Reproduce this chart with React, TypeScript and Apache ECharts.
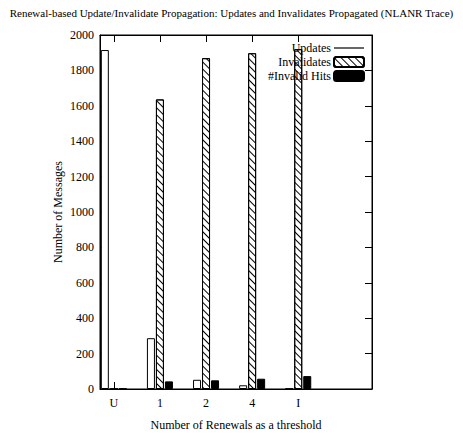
import React, { useEffect, useRef } from "react";
import * as echarts from "echarts";

const categories = ["U", "1", "2", "4", "I"];
const positions = [0, 1, 2, 3, 4];
const updates = [1915, 287, 52, 21, 2];
const invalidates = [0, 1636, 1869, 1897, 1920];
const invalidHits = [3, 43, 49, 58, 73];

const FONT = "Liberation Serif";

export default function App() {
  const ref = useRef<HTMLDivElement>(null);
  useEffect(() => {
    if (!ref.current) return;
    const chart = echarts.init(ref.current, undefined, { renderer: "svg" });
    const pair = (arr: number[]) => positions.map((p, i) => [p, arr[i]]);
    const xBase = (pos: "bottom" | "top", labels: boolean) => ({
      type: "value",
      position: pos,
      min: -0.3,
      max: 5.6,
      axisLine: { show: true, onZero: false, lineStyle: { color: "#000", width: 1 } },
      axisTick: {
        show: true,
        inside: true,
        length: 7,
        customValues: positions,
        lineStyle: { color: "#000" },
      },
      axisLabel: {
        show: labels,
        customValues: positions,
        formatter: (v: number) => categories[Math.round(v)] ?? "",
        color: "#000",
        fontFamily: FONT,
        fontSize: 12,
        margin: 8,
      },
      splitLine: { show: false },
    });
    const yBase = (pos: "left" | "right", labels: boolean) => ({
      type: "value",
      position: pos,
      min: 0,
      max: 2000,
      interval: 200,
      axisLine: { show: true, onZero: false, lineStyle: { color: "#000", width: 1 } },
      axisTick: { show: true, inside: true, length: 7, lineStyle: { color: "#000" } },
      axisLabel: {
        show: labels,
        color: "#000",
        fontFamily: FONT,
        fontSize: 12,
        margin: 6,
        formatter: (v: number) => String(v),
      },
      splitLine: { show: false },
    });
    chart.setOption({
      animation: false,
      backgroundColor: "#fff",
      title: {
        text: "Renewal-based Update/Invalidate Propagation: Updates and Invalidates Propagated (NLANR Trace)",
        left: "center",
        top: 2,
        textStyle: { fontFamily: FONT, fontSize: 11, fontWeight: "normal", color: "#000" },
      },
      grid: {
        left: 100,
        right: 91,
        top: 35,
        bottom: 44,
        show: true,
        borderColor: "#000",
        borderWidth: 1,
        backgroundColor: "transparent",
      },
      legend: {
        orient: "vertical",
        right: 98,
        top: 42,
        align: "right",
        itemWidth: 30,
        itemHeight: 10,
        itemGap: 2,
        padding: 0,
        textStyle: { fontFamily: FONT, fontSize: 12, color: "#000", padding: [0, -2, 0, 0] },
        data: [
          {
            name: "Updates",
            icon: "path://M0,0L30,0L30,1.2L0,1.2Z",
            itemStyle: { color: "#000", borderWidth: 0 },
          },
          { name: "Invalidates" },
          { name: "#Invalid Hits" },
        ],
      },
      xAxis: [
        {
          ...xBase("bottom", true),
          name: "Number of Renewals as a threshold",
          nameLocation: "middle",
          nameGap: 30,
          nameMoveOverlap: false,
          nameTextStyle: { fontFamily: FONT, fontSize: 12, color: "#000" },
        },
        xBase("top", false),
      ],
      yAxis: [
        {
          ...yBase("left", true),
          name: "Number of Messages",
          nameLocation: "middle",
          nameGap: 36,
          nameMoveOverlap: false,
          nameTextStyle: { fontFamily: FONT, fontSize: 12, color: "#000" },
        },
        yBase("right", false),
      ],
      series: [
        {
          name: "Updates",
          type: "bar",
          data: pair(updates),
          barWidth: 8,
          barGap: "12.5%",
          itemStyle: { color: "#fff", borderColor: "#000", borderWidth: 1 },
        },
        {
          name: "Invalidates",
          type: "bar",
          data: pair(invalidates),
          barWidth: 8,
          barGap: "12.5%",
          itemStyle: {
            color: "#fff",
            borderColor: "#000",
            borderWidth: 1,
            decal: {
              symbol: "rect",
              symbolSize: 1,
              color: "#000",
              backgroundColor: "#fff",
              dashArrayX: [1, 0],
              dashArrayY: [1, 4],
              rotation: Math.PI / 4,
            },
          },
        },
        {
          name: "#Invalid Hits",
          type: "bar",
          data: pair(invalidHits),
          barWidth: 8,
          barGap: "12.5%",
          itemStyle: { color: "#000", borderColor: "#000", borderWidth: 1 },
        },
      ],
    });
    return () => chart.dispose();
  }, []);
  return (
    <div
      ref={ref}
      style={{ position: "absolute", left: 0, top: 0, width: 463, height: 436 }}
    />
  );
}
